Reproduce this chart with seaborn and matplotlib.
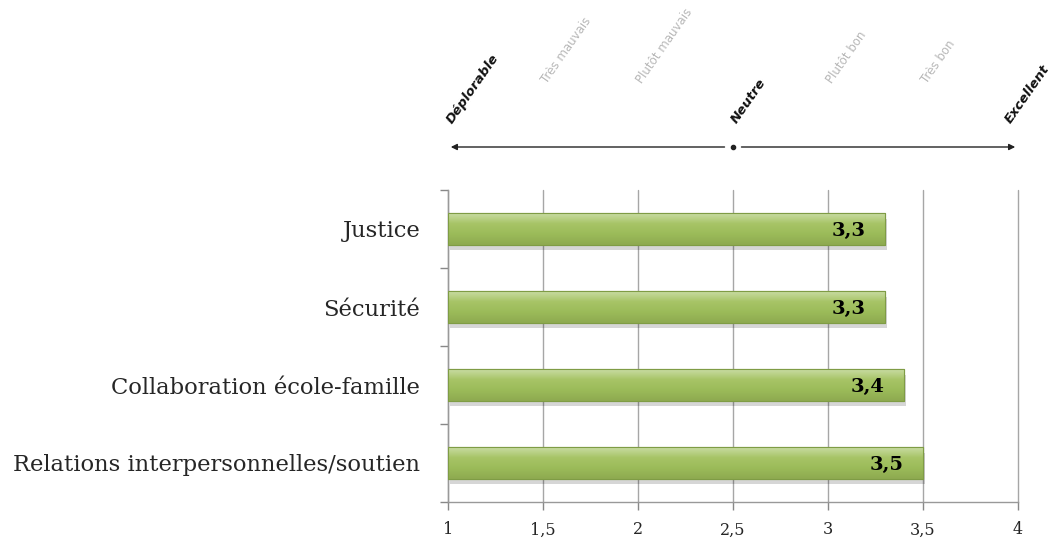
import numpy as np
import pandas as pd
import matplotlib
matplotlib.use("Agg")
import matplotlib.pyplot as plt
import seaborn as sns
from matplotlib.colors import LinearSegmentedColormap
from matplotlib.transforms import blended_transform_factory

categories = ["Justice", "Sécurité", "Collaboration école-famille", "Relations interpersonnelles/soutien"]
values = [3.3, 3.3, 3.4, 3.5]
value_labels = ["3,3", "3,3", "3,4", "3,5"]
xticks = [1, 1.5, 2, 2.5, 3, 3.5, 4]
xtick_labels = ["1", "1,5", "2", "2,5", "3", "3,5", "4"]
scale_labels = ["Déplorable", "Très mauvais", "Plutôt mauvais", "Neutre", "Plutôt bon", "Très bon", "Excellent"]
scale_pos = [1, 1.5, 2, 2.5, 3, 3.5, 4]
scale_major = [True, False, False, True, False, False, True]

sns.set_theme(style="white")
plt.rcParams["font.family"] = ["DejaVu Serif", "Liberation Serif"]

fig = plt.figure(figsize=(10.51, 5.38), dpi=100)
ax = fig.add_axes([448/1051, 36/538, 570/1051, 312/538])

df = pd.DataFrame({"cat": categories, "val": values})
sns.barplot(data=df, y="cat", x="val", orient="h", ax=ax, color="#9bbb59",
            width=0.4, edgecolor="#7f9c45", linewidth=0.8, zorder=3)

XMIN, XMAX = 1, 4
ax.set_xlim(XMIN, XMAX)
ax.set_ylim(3.5, -0.5)

# gradient fill on each bar
cmap = LinearSegmentedColormap.from_list("g", ["#c9dca3", "#a7c466", "#9bbb59", "#8eaa50"])
grad = np.linspace(0, 1, 64).reshape(-1, 1)
for p in list(ax.patches):
    x0, y0 = p.get_x(), p.get_y()
    w, h = p.get_width(), p.get_height()
    x1 = x0 + w
    xs = max(x0, XMIN)
    # shadow
    ax.add_patch(plt.Rectangle((xs + 0.012, y0 + 0.07), x1 - xs, h, facecolor="#000000",
                               alpha=0.16, zorder=2, linewidth=0))
    im = ax.imshow(grad, extent=[xs, x1, y0 + h, y0], aspect="auto", cmap=cmap,
                   zorder=3.5, origin="upper")
    clip = plt.Rectangle((xs, y0), x1 - xs, h, transform=ax.transData)
    im.set_clip_path(clip)
    ax.add_patch(plt.Rectangle((xs, y0), x1 - xs, h, facecolor="none", edgecolor="#7f9c45",
                               linewidth=0.8, zorder=4))

ax.set_xlim(XMIN, XMAX)
ax.set_ylim(3.5, -0.5)

for i, (v, lab) in enumerate(zip(values, value_labels)):
    ax.text(v - 0.1, i + 0.03, lab, ha="right", va="center", fontsize=14,
            fontweight="bold", color="#000000", zorder=5)

ax.set_xticks(xticks)
ax.set_xticklabels(xtick_labels, fontsize=11.5)
ax.set_yticks(range(len(categories)))
ax.set_yticklabels(categories, fontsize=16.3)
ax.set_xlabel("")
ax.set_ylabel("")
ax.tick_params(axis="y", length=0, pad=20)
ax.set_yticks([-0.5, 0.5, 1.5, 2.5, 3.5], minor=True)
ax.tick_params(axis="y", which="minor", length=6, width=1, color="#888888", left=True)
ax.tick_params(axis="x", length=6, width=1, color="#888888", bottom=True, pad=8)

ax.grid(axis="x", color="#a6a6a6", linewidth=1, zorder=0)
for gl in ax.get_xgridlines():
    gl.set_clip_on(False)
ax.set_axisbelow(True)
for s in ["top", "right"]:
    ax.spines[s].set_visible(False)
for s in ["left", "bottom"]:
    ax.spines[s].set_color("#999999")
    ax.spines[s].set_linewidth(1)

# top scale annotation
tr = blended_transform_factory(ax.transData, ax.transAxes)
arrow_y = 1 + 43/312
ax.annotate("", xy=(1.0, arrow_y), xytext=(2.47, arrow_y), xycoords=tr, textcoords=tr,
            arrowprops=dict(arrowstyle="-|>", color="#222222", lw=1, mutation_scale=9),
            annotation_clip=False)
ax.annotate("", xy=(4.0, arrow_y), xytext=(2.53, arrow_y), xycoords=tr, textcoords=tr,
            arrowprops=dict(arrowstyle="-|>", color="#222222", lw=1, mutation_scale=9),
            annotation_clip=False)
ax.plot([2.5], [arrow_y], marker="o", markersize=3, color="#222222", transform=tr, clip_on=False)

for lab, pos, major in zip(scale_labels, scale_pos, scale_major):
    if major:
        ax.text(pos + 0.02 - (0.06 if pos == 4 else 0), 1 + 66/312, lab, transform=tr,
                rotation=55, rotation_mode="anchor",
                ha="left", va="baseline", fontsize=9.5, fontweight="bold", fontstyle="italic",
                color="#111111", family=["DejaVu Sans"], clip_on=False)
    else:
        ax.text(pos + 0.02, 1 + 106/312, lab, transform=tr, rotation=55, rotation_mode="anchor",
                ha="left", va="baseline", fontsize=8.5, color="#b8b8b8",
                family=["DejaVu Sans"], clip_on=False)

fig.savefig("out.png", dpi=100)
